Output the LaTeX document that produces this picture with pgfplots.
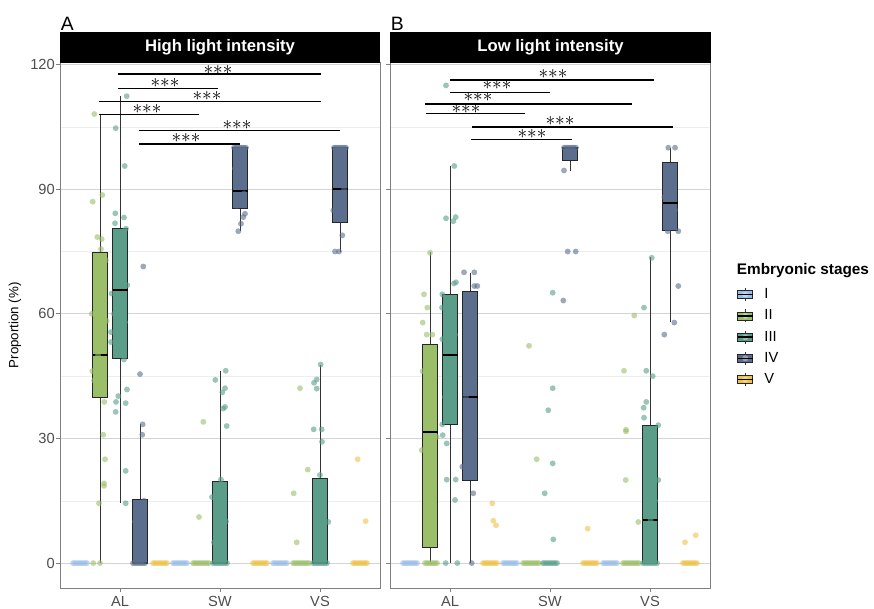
\documentclass[border=0pt]{standalone}
\usepackage{pgfplots}
\pgfplotsset{compat=1.18}
\usepgfplotslibrary{statistics}
\usepackage{fontspec}
\setmainfont{Liberation Sans}
\definecolor{cI}{HTML}{9ABDE8}
\definecolor{cII}{HTML}{9BBE69}
\definecolor{cIII}{HTML}{5A9E8A}
\definecolor{cIV}{HTML}{5B6E8E}
\definecolor{cV}{HTML}{EEC14A}
\definecolor{txtgray}{HTML}{4D4D4D}
\definecolor{gridmaj}{HTML}{D4D4D4}
\definecolor{gridmin}{HTML}{EDEDED}
\definecolor{brd}{HTML}{808080}

\pgfplotsset{
  panel/.style={
    scale only axis, width=240pt, height=394.1pt,
    xmin=0.4, xmax=3.6, ymin=-6, ymax=120.5,
    xtick={1,2,3}, xticklabels={AL,SW,VS},
    ytick={0,30,60,90,120}, minor ytick={15,45,75,105},
    ymajorgrids, yminorgrids,
    major grid style={gridmaj, line width=0.6pt},
    minor grid style={gridmin, line width=0.4pt},
    tick align=outside, xtick pos=bottom, ytick pos=left,
    major tick length=3pt, minor tick length=0pt,
    tick style={brd, line width=0.6pt},
    axis line style={brd, line width=0.7pt},
    ticklabel style={font=\fontsize{11}{13}\selectfont, text=txtgray},
    yticklabel style={xshift=2.6pt},
    /pgf/number format/assume math mode=true,
    clip=false,
    boxplot/draw direction=y,
    boxplot/every box/.style={draw=black!85, line width=0.6pt},
    boxplot/every whisker/.style={draw=black!80, line width=0.55pt},
    boxplot/every median/.style={draw=black, line width=1.4pt},
  },
  pts/.style={only marks, mark=*, mark size=2.2pt, color=#1, mark options={fill=#1, draw opacity=0, fill opacity=0.6}},
  sig/.style={black, line width=1.05pt},
}
\newcommand{\bp}[7]{\addplot[boxplot prepared={draw position=#1, lower whisker=#2, lower quartile=#3, median=#4, upper quartile=#5, upper whisker=#6, box extend=0.15, whisker extend=0}, draw=black!85, fill=#7] coordinates {};}
\newcommand{\stars}[2]{\node[font=\fontsize{15}{15}\selectfont, inner sep=0pt] at (axis cs:#1,#2) {${\ast}{\ast}{\ast}$};}
\newcommand{\legbox}[1]{\addlegendimage{legend image code/.code={
  \path[draw=none, fill=none] (0pt,0pt) -- (18.5pt,0pt);
  \draw[black!80, line width=0.5pt] (5.6pt,-4.9pt)--(5.6pt,-3pt) (5.6pt,3pt)--(5.6pt,4.9pt);
  \draw[draw=black!85, fill=#1, line width=0.5pt] (0pt,-3pt) rectangle (11.25pt,3pt);
  \fill[#1!65!white] (5.6pt,0pt) circle (2pt);
  \draw[black, line width=1pt] (0pt,0pt)--(11.25pt,0pt);
}}}

\begin{document}
\begin{tikzpicture}
\path[use as bounding box] (0,0) rectangle (655.5pt,-456pt);

% ---------------- Panel A: High light intensity ----------------
\begin{axis}[panel, at={(45pt,-441pt)}, anchor=south west,
  ylabel={Proportion (\%)},
  every axis y label/.style={at={(axis description cs:-0.1406,0.5)}, rotate=90, anchor=center, font=\fontsize{10}{12}\selectfont},
]
\bp{0.8}{0}{40}{50}{74.7}{108.1}{cII}
\bp{1.0}{14.4}{49.2}{65.7}{80.5}{112.4}{cIII}
\bp{1.2}{0}{0}{0}{15.4}{33.4}{cIV}
\bp{2.0}{0}{0}{0}{19.7}{46.3}{cIII}
\bp{2.2}{80}{85.3}{89.5}{100}{100}{cIV}
\bp{3.0}{0}{0}{0}{20.4}{47.8}{cIII}
\bp{3.2}{75}{82.1}{90}{100}{100}{cIV}
% stage I
\addplot[pts=cI] coordinates {(0.53,0)(0.55,0)(0.57,0)(0.59,0)(0.61,0)(0.63,0)(0.65,0)(0.67,0)
 (1.53,0)(1.55,0)(1.57,0)(1.59,0)(1.61,0)(1.63,0)(1.65,0)(1.67,0)
 (2.53,0)(2.55,0)(2.57,0)(2.59,0)(2.61,0)(2.63,0)(2.65,0)(2.67,0)};
% stage II
\addplot[pts=cII] coordinates {(0.743,108.1)(0.823,88.6)(0.727,87)(0.773,78.5)(0.817,78)(0.81,75.6)(0.81,73.7)(0.86,72.9)
 (0.717,60)(0.867,58.3)(0.723,46.2)(0.843,38.8)(0.833,30.9)(0.85,25)(0.84,19.2)(0.84,18.6)(0.79,14.4)(0.733,0)(0.8,0)
 (0.76,66)(0.83,52)(0.78,50)(0.74,44)(0.82,41)
 (1.79,11.1)(1.833,34)(1.73,0)(1.75,0)(1.77,0)(1.79,0)(1.81,0)(1.83,0)(1.85,0)(1.87,0)(1.89,0)
 (2.8,42.1)(2.737,16.8)(2.767,5)(2.877,22.5)(2.73,0)(2.75,0)(2.77,0)(2.79,0)(2.81,0)(2.83,0)(2.85,0)(2.87,0)(2.89,0)};
% stage III
\addplot[pts=cIII] coordinates {(1.067,112.4)(0.957,104.7)(1.047,95.6)(0.953,84.2)(0.95,81.8)(1.04,83.2)(1.06,80.5)(1.073,66.9)
 (0.917,64.9)(0.91,55.6)(0.91,53.2)(1.04,49)(1.07,41.8)(0.983,40.2)(0.96,38.8)(1.057,38.5)(0.957,36.4)(1.057,22.2)(1.057,14.4)
 (1.0,72)(0.94,60)(1.05,58)(0.98,68)
 (2.033,37.2)(2.05,37.6)(2.067,33)(2.01,20.1)(1.92,15.9)(2.057,46.3)(1.953,44.1)(2.05,42.1)(2.023,41.1)(2.06,10)(1.94,5)
 (1.93,0)(1.95,0)(1.97,0)(1.99,0)(2.01,0)(2.03,0)(2.05,0)(2.07,0)
 (3.007,47.8)(2.967,44.2)(2.94,43.4)(2.967,42)(2.937,32.2)(3.017,32.2)(3.02,29.2)(3.0,21.2)(3.083,9.9)
 (2.93,0)(2.95,0)(2.97,0)(2.99,0)(3.01,0)(3.03,0)(3.05,0)(3.07,0)};
% stage IV
\addplot[pts=cIV] coordinates {(1.233,71.4)(1.2,45.5)(1.227,33.4)(1.223,30.9)(1.15,10)(1.24,15)
 (1.13,0)(1.15,0)(1.17,0)(1.19,0)(1.21,0)(1.23,0)(1.25,0)
 (2.25,84.1)(2.233,83.3)(2.21,81.7)(2.183,79.9)(2.15,95)(2.24,89)(2.17,86)
 (2.14,100)(2.16,100)(2.18,100)(2.2,100)(2.22,100)(2.24,100)(2.26,100)
 (3.133,84.9)(3.223,78.9)(3.15,75)(3.19,75)(3.16,95)(3.24,90)(3.2,88)
 (3.14,100)(3.16,100)(3.18,100)(3.2,100)(3.22,100)(3.24,100)(3.26,100)};
% stage V
\addplot[pts=cV] coordinates {(1.33,0)(1.35,0)(1.37,0)(1.39,0)(1.41,0)(1.43,0)(1.45,0)(1.47,0)
 (2.33,0)(2.35,0)(2.37,0)(2.39,0)(2.41,0)(2.43,0)(2.45,0)(2.47,0)
 (3.33,0)(3.35,0)(3.37,0)(3.39,0)(3.41,0)(3.43,0)(3.45,0)(3.47,0)(3.377,25)(3.457,10.1)};
% significance
\addplot[sig] coordinates {(0.98,117.7)(3.01,117.7)};
\addplot[sig] coordinates {(0.98,114.3)(1.98,114.3)};
\addplot[sig] coordinates {(0.79,111.1)(3.01,111.1)};
\addplot[sig] coordinates {(0.79,108)(1.79,108)};
\addplot[sig] coordinates {(1.19,104.1)(3.2,104.1)};
\addplot[sig] coordinates {(1.19,100.9)(2.2,100.9)};
\stars{1.98}{118.7}
\stars{1.45}{115.6}
\stars{1.87}{112.4}
\stars{1.27}{109.3}
\stars{2.17}{105.5}
\stars{1.66}{102.3}
\end{axis}

% ---------------- Panel B: Low light intensity ----------------
\begin{axis}[panel, at={(292.5pt,-441pt)}, anchor=south west, yticklabels={},
  legend style={at={(1.084,0.574)}, anchor=north west, draw=none, fill=none,
    font=\fontsize{11}{13}\selectfont, row sep=3.85pt, inner sep=0pt,
    nodes={inner sep=1.5pt}},
  legend cell align=left,
]
\legbox{cI}\addlegendentry{I}
\legbox{cII}\addlegendentry{II}
\legbox{cIII}\addlegendentry{III}
\legbox{cIV}\addlegendentry{IV}
\legbox{cV}\addlegendentry{V}
\bp{0.8}{0}{3.8}{31.6}{52.7}{74.8}{cII}
\bp{1.0}{0}{33.4}{50}{64.7}{95.5}{cIII}
\bp{1.2}{0}{20}{40}{65.3}{69.8}{cIV}
\bp{2.2}{94.5}{97}{100}{100}{100}{cIV}
\bp{3.0}{0}{0}{10.3}{33.2}{73.6}{cIII}
\bp{3.2}{58}{80}{86.6}{96.5}{100}{cIV}
% stage I
\addplot[pts=cI] coordinates {(0.53,0)(0.55,0)(0.57,0)(0.59,0)(0.61,0)(0.63,0)(0.65,0)(0.67,0)
 (1.53,0)(1.55,0)(1.57,0)(1.59,0)(1.61,0)(1.63,0)(1.65,0)(1.67,0)
 (2.53,0)(2.55,0)(2.57,0)(2.59,0)(2.61,0)(2.63,0)(2.65,0)(2.67,0)};
% stage II
\addplot[pts=cII] coordinates {(0.8,74.7)(0.74,64.7)(0.773,61.5)(0.727,57.9)(0.767,55)(0.823,55)(0.727,46.2)(0.717,27.2)(0.867,30.4)
 (0.76,40)(0.83,20)(0.78,10)(0.8,35)
 (0.75,0)(0.77,0)(0.79,0)(0.81,0)(0.83,0)(0.85,0)(0.87,0)
 (1.867,25)(1.79,52.3)(1.73,0)(1.75,0)(1.77,0)(1.79,0)(1.81,0)(1.83,0)(1.85,0)(1.87,0)(1.89,0)
 (2.843,59.6)(2.74,46.3)(2.76,32.1)(2.76,31.7)(2.757,20)(2.883,9.9)
 (2.73,0)(2.75,0)(2.77,0)(2.79,0)(2.81,0)(2.83,0)(2.85,0)(2.87,0)(2.89,0)};
% stage III
\addplot[pts=cIII] coordinates {(0.96,115)(1.043,95.6)(0.96,83)(1.033,82.3)(1.057,83.3)(1.04,67.3)(1.06,67.6)(0.923,64.7)(0.92,61.5)
 (0.923,53.9)(0.923,33.4)(0.927,30.8)(0.967,28.8)(0.967,20.1)(1.057,20.1)(1.05,15.2)(0.957,0)(1.073,0)
 (1.0,45)(1.05,55)(0.95,40)
 (2.027,65.1)(2.027,42.1)(1.983,36.8)(2.027,24)(1.947,16.8)(2.033,5.7)
 (1.93,0)(1.95,0)(1.97,0)(1.99,0)(2.01,0)(2.03,0)(2.05,0)(2.07,0)
 (3.017,73.5)(2.94,61.5)(2.963,46.3)(3.027,45)(2.963,38.8)(2.937,37.4)(2.94,35)(3.083,33.2)(3.083,20)(3.007,10.3)
 (2.96,25)(3.05,15)
 (2.93,0)(2.95,0)(2.97,0)(2.99,0)(3.01,0)(3.03,0)(3.05,0)(3.07,0)};
% stage IV
\addplot[pts=cIV] coordinates {(1.14,70)(1.243,70)(1.243,66.7)(1.273,66.7)(1.123,23.2)(1.233,16.8)(1.217,0)
 (1.16,40)(1.24,55)(1.18,30)
 (2.177,75)(2.257,75)(2.133,63.2)(2.14,94.5)(2.2,98)
 (2.14,100)(2.16,100)(2.18,100)(2.2,100)(2.22,100)(2.24,100)(2.26,100)
 (3.183,100)(3.25,100)(3.143,88.1)(3.177,79.9)(3.283,79.9)(3.283,66.7)(3.243,57.9)(3.143,55)(3.2,92)(3.25,85)};
% stage V
\addplot[pts=cV] coordinates {(1.33,0)(1.35,0)(1.37,0)(1.39,0)(1.41,0)(1.43,0)(1.45,0)(1.47,0)(1.423,14.4)(1.433,10.2)(1.46,9.1)
 (2.33,0)(2.35,0)(2.37,0)(2.39,0)(2.41,0)(2.43,0)(2.45,0)(2.47,0)(2.377,8.3)
 (3.33,0)(3.35,0)(3.37,0)(3.39,0)(3.41,0)(3.43,0)(3.45,0)(3.47,0)(3.35,5)(3.457,6.7)};
% significance
\addplot[sig] coordinates {(1.0,116.3)(3.04,116.3)};
\addplot[sig] coordinates {(1.0,113.3)(2.0,113.3)};
\addplot[sig] coordinates {(0.75,110.5)(2.82,110.5)};
\addplot[sig] coordinates {(0.76,108.2)(1.75,108.2)};
\addplot[sig] coordinates {(1.22,105)(3.23,105)};
\addplot[sig] coordinates {(1.21,102)(2.22,102)};
\stars{2.03}{117.8}
\stars{1.47}{115.0}
\stars{1.28}{112.2}
\stars{1.16}{109.2}
\stars{2.1}{106.5}
\stars{1.82}{103.4}
\end{axis}

% strips and panel labels
\fill[black] (45pt,-24pt) rectangle (285pt,-46.9pt);
\node[white, font=\bfseries\fontsize{12.5}{14}\selectfont] at (165pt,-35.4pt) {High light intensity};
\fill[black] (292.5pt,-24pt) rectangle (533.25pt,-46.9pt);
\node[white, font=\bfseries\fontsize{12.5}{14}\selectfont] at (412.9pt,-35.4pt) {Low light intensity};
\node[anchor=base west, inner sep=0pt, font=\fontsize{14.5}{16}\selectfont] at (45.5pt,-23.2pt) {A};
\node[anchor=base west, inner sep=0pt, font=\fontsize{14.5}{16}\selectfont] at (293pt,-23.2pt) {B};
\node[anchor=base west, inner sep=0pt, font=\bfseries\fontsize{11.5}{13}\selectfont] at (552.5pt,-205.5pt) {Embryonic stages};
\end{tikzpicture}
\end{document}
